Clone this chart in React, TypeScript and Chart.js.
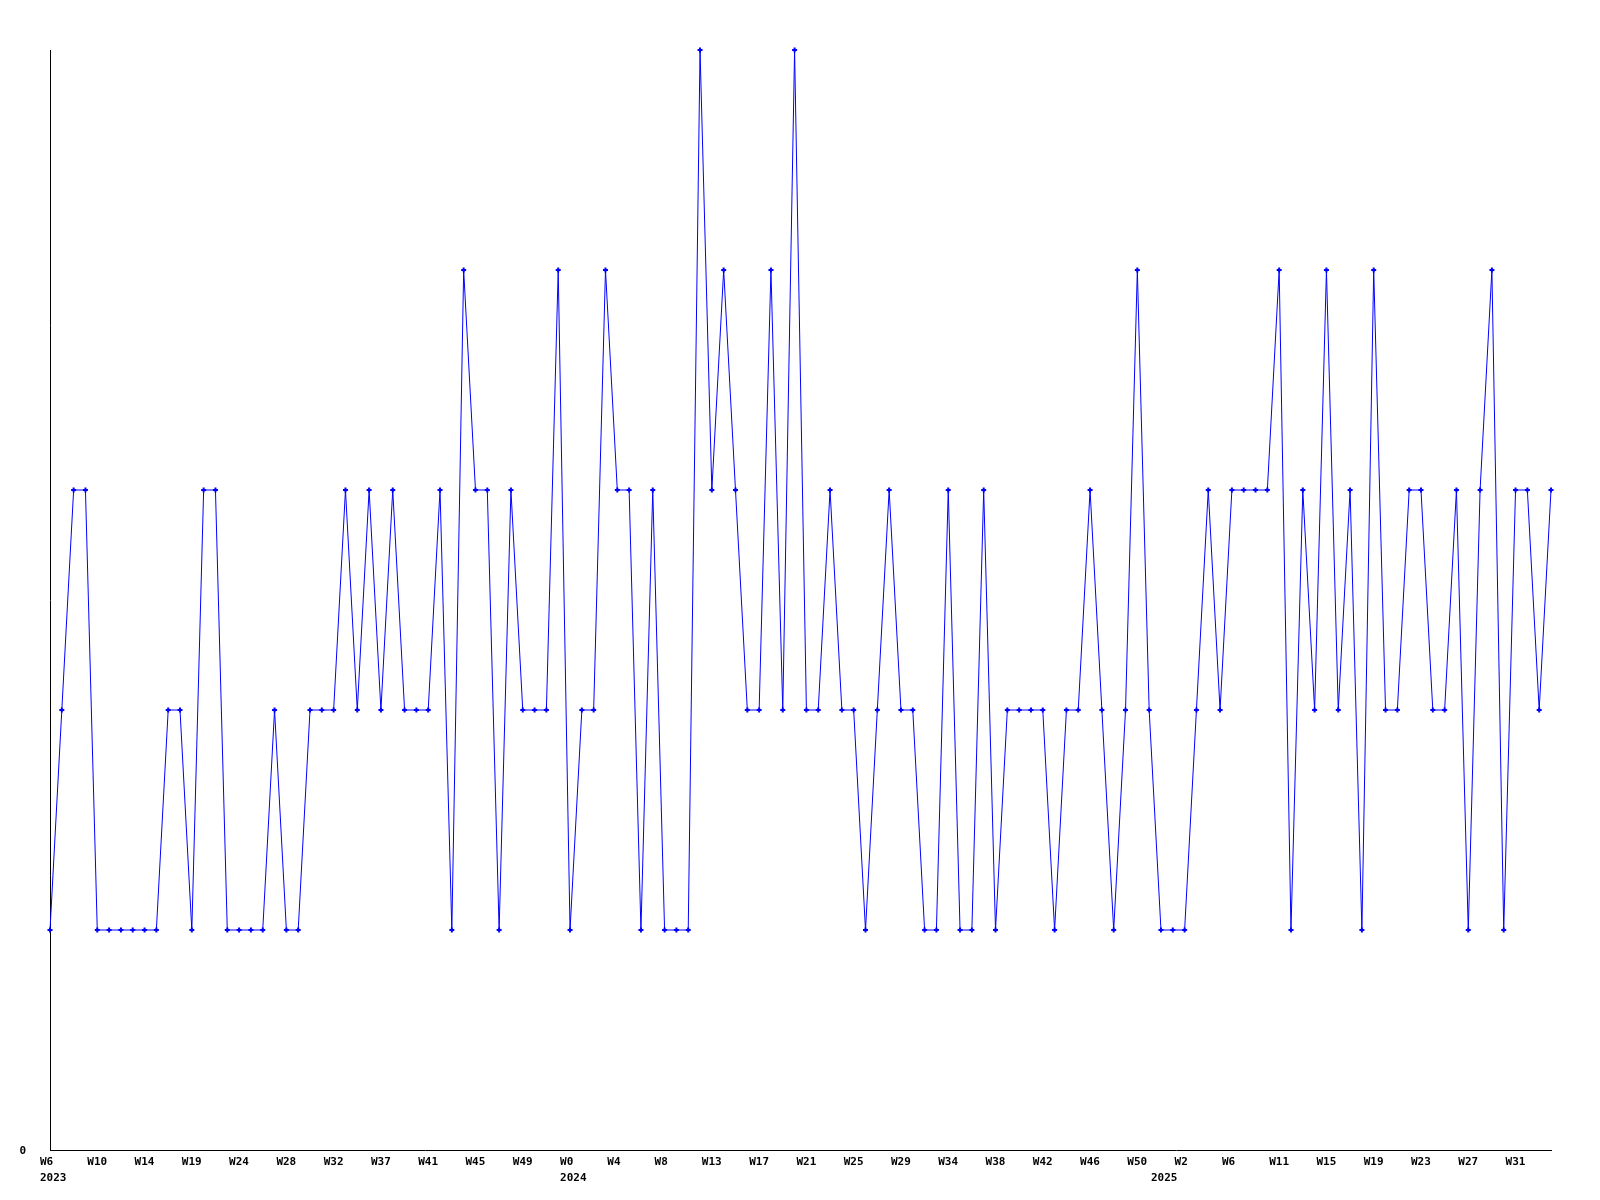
import React, { useEffect, useRef } from "react";
import { Chart, registerables } from "chart.js";

Chart.register(...registerables);

// Weekly values (one per week, starting at W6 2023)
const values: number[] = [
  1, 2, 3, 3, 1, 1, 1, 1, 1, 1,
  2, 2, 1, 3, 3, 1, 1, 1, 1, 2,
  1, 1, 2, 2, 2, 3, 2, 3, 2, 3,
  2, 2, 2, 3, 1, 4, 3, 3, 1, 3,
  2, 2, 2, 4, 1, 2, 2, 4, 3, 3,
  1, 3, 1, 1, 1, 5, 3, 4, 3, 2,
  2, 4, 2, 5, 2, 2, 3, 2, 2, 1,
  2, 3, 2, 2, 1, 1, 3, 1, 1, 3,
  1, 2, 2, 2, 2, 1, 2, 2, 3, 2,
  1, 2, 4, 2, 1, 1, 1, 2, 3, 2,
  3, 3, 3, 3, 4, 1, 3, 2, 4, 2,
  3, 1, 4, 2, 2, 3, 3, 2, 2, 3,
  1, 3, 4, 1, 3, 3, 2, 3,
];

// x tick positions (week index) and labels
const weekTickPositions: number[] = [
  0, 4, 8, 12, 16, 20, 24, 28, 32, 36, 40, 44, 48, 52, 56, 60,
  64, 68, 72, 76, 80, 84, 88, 92, 96, 100, 104, 108, 112, 116, 120, 124,
];
const weekTickLabels: string[] = [
  "W6", "W10", "W14", "W19", "W24", "W28", "W32", "W37", "W41", "W45", "W49",
  "W0", "W4", "W8", "W13", "W17", "W21", "W25", "W29", "W34", "W38", "W42",
  "W46", "W50", "W2", "W6", "W11", "W15", "W19", "W23", "W27", "W31",
];
const yearTickPositions: number[] = [0, 44, 94];
const yearTickLabels: string[] = ["2023", "2024", "2025"];

const yTickValues: number[] = [0];
const yTickLabels: string[] = ["0"];

const FONT = { family: "'DejaVu Sans Mono', 'Liberation Mono', monospace", size: 11, weight: "bold" as const, lineHeight: "16px" };

export default function App() {
  const canvasRef = useRef<HTMLCanvasElement | null>(null);

  useEffect(() => {
    const canvas = canvasRef.current;
    if (!canvas) return;

    const points = values.map((v, i) => ({ x: i, y: v }));

    const labelMap = new Map<number, string | string[]>();
    const allPositions = Array.from(new Set([...weekTickPositions, ...yearTickPositions])).sort((a, b) => a - b);
    allPositions.forEach((p) => {
      const wi = weekTickPositions.indexOf(p);
      const yi = yearTickPositions.indexOf(p);
      const w = wi >= 0 ? weekTickLabels[wi] : "";
      if (yi >= 0) labelMap.set(p, [w, yearTickLabels[yi]]);
      else labelMap.set(p, w);
    });

    const chart = new Chart(canvas, {
      type: "line",
      data: {
        datasets: [
          {
            data: points,
            borderColor: "#0000ff",
            backgroundColor: "#0000ff",
            borderWidth: 1,
            tension: 0,
            pointStyle: "cross",
            pointRadius: 2.5,
            pointBorderWidth: 2,
            pointBorderColor: "#0000ff",
            pointBackgroundColor: "#0000ff",
            fill: false,
            clip: false,
          },
        ],
      },
      options: {
        animation: false,
        responsive: false,
        devicePixelRatio: 1,
        layout: { padding: { left: 0, right: 49, top: 50, bottom: 0 } },
        plugins: {
          legend: { display: false },
          tooltip: { enabled: false },
          title: { display: false },
        },
        scales: {
          x: {
            type: "linear",
            min: 0,
            max: values.length - 1,
            grid: { display: false, drawTicks: false },
            border: { display: true, color: "#000000", width: 1 },
            afterBuildTicks: (scale: any) => {
              scale.ticks = allPositions.map((p) => ({ value: p }));
            },
            afterFit: (scale: any) => {
              scale.height = 50;
            },
            ticks: {
              autoSkip: false,
              maxRotation: 0,
              minRotation: 0,
              align: "start",
              labelOffset: -10,
              padding: 4,
              color: "#000000",
              font: FONT,
              callback: (value: any) => {
                const l = labelMap.get(Number(value));
                return l === undefined ? "" : l;
              },
            },
          },
          y: {
            type: "linear",
            min: 0,
            max: 5,
            grid: { display: false, drawTicks: false },
            border: { display: true, color: "#000000", width: 1 },
            afterBuildTicks: (scale: any) => {
              scale.ticks = yTickValues.map((v) => ({ value: v }));
            },
            afterFit: (scale: any) => {
              scale.width = 50;
            },
            ticks: {
              padding: 24,
              labelOffset: 1,
              color: "#000000",
              font: FONT,
              callback: (value: any) => {
                const idx = yTickValues.indexOf(Number(value));
                return idx >= 0 ? yTickLabels[idx] : "";
              },
            },
          },
        },
      },
    });

    return () => {
      chart.destroy();
    };
  }, []);

  return (
    <div style={{ position: "absolute", left: 0, top: 0, width: 1600, height: 1200, background: "#ffffff" }}>
      <canvas ref={canvasRef} width={1600} height={1200} style={{ width: 1600, height: 1200, display: "block" }} />
    </div>
  );
}
